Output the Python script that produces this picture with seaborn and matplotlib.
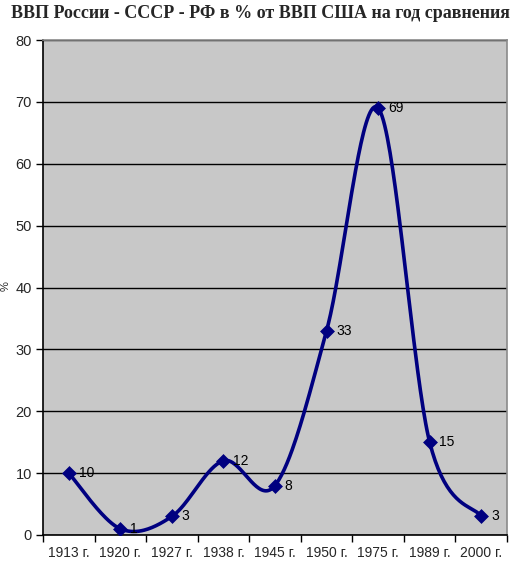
import numpy as np
import pandas as pd
import matplotlib
matplotlib.use("Agg")
import matplotlib.pyplot as plt
import seaborn as sns

years = ["1913 г.", "1920 г.", "1927 г.", "1938 г.", "1945 г.", "1950 г.", "1975 г.", "1989 г.", "2000 г."]
values = [10, 1, 3, 12, 8, 33, 69, 15, 3]
title = "ВВП России - СССР - РФ в % от ВВП США на год сравнения"

sns.set_theme(style="white")
plt.rcParams['font.family'] = ['Liberation Sans', 'DejaVu Sans']

df = pd.DataFrame({"pos": np.arange(len(values)), "year": years, "value": values})

# Excel-like smoothed (Catmull-Rom Bezier) curve through the data points
def smooth(x, y, n=40):
    x = np.asarray(x, float); y = np.asarray(y, float)
    px = np.concatenate([[x[0]], x, [x[-1]]])
    py = np.concatenate([[y[0]], y, [y[-1]]])
    xs, ys = [], []
    for i in range(1, len(px) - 2):
        p0 = np.array([px[i - 1], py[i - 1]]); p1 = np.array([px[i], py[i]])
        p2 = np.array([px[i + 1], py[i + 1]]); p3 = np.array([px[i + 2], py[i + 2]])
        c1 = p1 + (p2 - p0) / 6.0
        c2 = p2 - (p3 - p1) / 6.0
        t = np.linspace(0, 1, n)[:, None]
        b = (1 - t) ** 3 * p1 + 3 * (1 - t) ** 2 * t * c1 + 3 * (1 - t) * t ** 2 * c2 + t ** 3 * p2
        xs.append(b[:, 0]); ys.append(b[:, 1])
    return np.concatenate(xs), np.concatenate(ys)

sx, sy = smooth(df["pos"], df["value"])
curve = pd.DataFrame({"x": sx, "y": sy})

fig = plt.figure(figsize=(5.2, 5.75), dpi=100)
ax = fig.add_axes([43 / 520, 1 - 535 / 575, (507 - 43) / 520, (535 - 40) / 575])
ax.set_facecolor("#C8C8C8")
fig.patch.set_facecolor("white")

navy = "#000080"
ax.plot(curve["x"], curve["y"], color=navy, lw=2.6, zorder=3, solid_capstyle="round")
sns.scatterplot(data=df, x="pos", y="value", marker="D", s=50, color=navy,
                edgecolor=navy, linewidth=0.5, ax=ax, zorder=4, legend=False)

for p, v in zip(df["pos"], df["value"]):
    ax.annotate(str(v), (p, v), xytext=(7, 0), textcoords="offset points",
                ha="left", va="center", fontsize=10, color="black", zorder=5)

ax.set_xlim(-0.5, len(values) - 0.5)
ax.set_ylim(0, 80)
ax.set_yticks(np.arange(0, 81, 10))
ax.set_xticks(np.arange(-0.5, len(values), 1.0))
ax.set_xticklabels([])
ax.set_xticks(np.arange(len(values)), minor=True)
ax.set_xticklabels(years, minor=True, fontsize=10)
ax.tick_params(axis="x", which="minor", length=0, pad=8)
ax.tick_params(axis="x", which="major", length=5, width=1, color="black", direction="out", bottom=True)
ax.tick_params(axis="y", length=5, width=1, color="black", direction="out", left=True, labelsize=10.5, pad=3)

ax.yaxis.grid(True, color="black", lw=1)
ax.xaxis.grid(False)
ax.set_axisbelow(True)
for s in ["left", "bottom"]:
    ax.spines[s].set_color("black"); ax.spines[s].set_linewidth(1.2)
for s in ["top", "right"]:
    ax.spines[s].set_color("#8A8A8A"); ax.spines[s].set_linewidth(1.2)
ax.set_xlabel(""); ax.set_ylabel("")

fig.text(0.5, 1 - 13 / 575, title, ha="center", va="center", fontsize=13,
         fontweight="bold", family=["Liberation Serif", "DejaVu Serif"])
fig.text(1 / 520, 1 - 286 / 575, "%", rotation=90, ha="left", va="center", fontsize=8)

fig.savefig("out.png", dpi=100)
